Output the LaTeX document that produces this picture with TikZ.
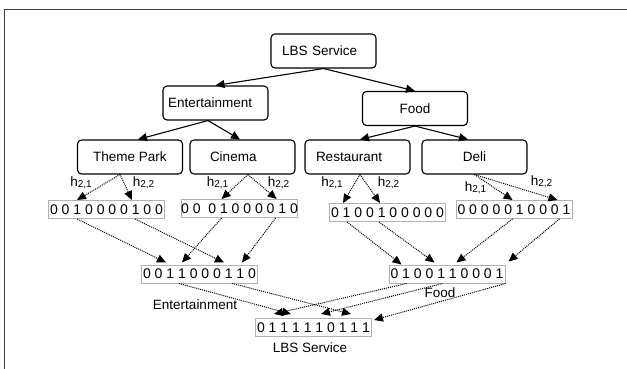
\documentclass[tikz,border=0pt]{standalone}
\usepackage{fontspec}
\setmainfont{Liberation Sans}
\usetikzlibrary{arrows.meta}

\tikzset{
  categoria/.style={draw, rounded corners=4pt, line width=1.1pt, inner sep=0pt,
    minimum width=105pt, minimum height=34pt, font=\fontsize{13.5}{16}\selectfont},
  margen/.style={align=left, text width=#1},
  bits/.style={draw=gray!60, line width=1pt, inner sep=0pt,
    minimum width=116pt, minimum height=18pt, font=\fontsize{14}{16}\selectfont},
  arbol/.style={line width=1.1pt, -{Triangle[length=9pt,width=8pt]}},
  hash/.style={line width=1pt, dash pattern=on 1pt off 1pt, -{Triangle[length=9pt,width=8pt]}},
  etiq/.style={inner sep=0pt, font=\fontsize{13.5}{16}\selectfont},
}
\newcommand{\hfun}[1]{h\raisebox{-1pt}{\fontsize{10}{12}\selectfont #1}}

\begin{document}
\begin{tikzpicture}[x=1pt, y=-1pt]
  \useasboundingbox (0,0) rectangle (627,369);
  % Marco
  \draw[line width=1.5pt, black!75] (4.5,372) -- (4.5,9.5) -- (630,9.5);

  % Jerarquia de categorias
  \node[categoria, margen=83pt] (lbs)  at (323.5,51)  {LBS Service};
  \node[categoria, margen=95pt] (ent)  at (215.5,103) {Entertainment};
  \node[categoria] (food) at (415,108.5) {Food};
  \node[categoria] (tpark) at (130,157)   {Theme Park};
  \node[categoria, margen=65pt] (cine)  at (242.5,157) {Cinema};
  \node[categoria, margen=83pt] (rest)  at (357.5,157) {Restaurant};
  \node[categoria] (deli)  at (474.5,157) {Deli};

  \draw[arbol] (lbs.south) -- (ent.north);
  \draw[arbol] (lbs.south) -- (food.north);
  \draw[arbol] ([xshift=-7.5pt]ent.south) -- ([xshift=8pt]tpark.north);
  \draw[arbol] ([xshift=-7.5pt]ent.south) -- ([xshift=-2.5pt]cine.north);
  \draw[arbol] (food.south) -- ([xshift=2.5pt]rest.north);
  \draw[arbol] (food.south) -- ([xshift=-6.5pt]deli.north);

  % Filtros de Bloom de las hojas
  \node[bits] (a1) at (106.5,209.5) {0 0 1 0 0 0 0 1 0 0};
  \node[bits] (a2) at (239.5,208.5) {0 0 \ 0 1 0 0 0 0 1 0};
  \node[bits] (a3) at (387.5,212.5) {0 1 0 0 1 0 0 0 0 0};
  \node[bits] (a4) at (514,209.5)   {0 0 0 0 0 1 0 0 0 1};

  % Funciones hash
  \draw[hash] ([xshift=-10pt]tpark.south) -- ([xshift=29pt]a1.north west);
  \draw[hash] ([xshift=-10pt]tpark.south) -- ([xshift=84pt]a1.north west);
  \draw[hash] ([xshift=5.5pt]cine.south) -- ([xshift=41pt]a2.north west);
  \draw[hash] ([xshift=5.5pt]cine.south) -- ([xshift=96pt]a2.north west);
  \draw[hash] ([xshift=2.5pt]rest.south) -- ([xshift=14pt]a3.north west);
  \draw[hash] ([xshift=2.5pt]rest.south) -- ([xshift=51pt]a3.north west);
  \draw[hash] (deli.south) -- ([xshift=57pt]a4.north west);
  \draw[hash] (deli.south) -- ([xshift=102pt]a4.north west);

  \node[etiq] (h11) at (81,183)    {\hfun{2,1}};
  \node[etiq] (h12) at (143.5,183) {\hfun{2,2}};
  \node[etiq] (h21) at (217.5,183) {\hfun{2,1}};
  \node[etiq] (h22) at (278.5,183) {\hfun{2,2}};
  \node[etiq] (h31) at (332,183)   {\hfun{2,1}};
  \node[etiq] (h32) at (388.5,183) {\hfun{2,2}};
  \node[etiq] (h41) at (475.5,188) {\hfun{2,1}};
  \node[etiq] (h42) at (541.5,182) {\hfun{2,2}};

  % Filtros de las categorias intermedias
  \node[bits] (b1) at (199.5,274) {0 0 1 1 0 0 0 1 1 0};
  \node[bits] (b2) at (447,274)   {0 1 0 0 1 1 0 0 0 1};

  \draw[hash] ([xshift=29pt]a1.south west) -- ([xshift=25pt,yshift=2pt]b1.north west);
  \draw[hash] ([xshift=87pt]a1.south west) -- ([xshift=83pt,yshift=2pt]b1.north west);
  \draw[hash] ([xshift=41pt]a2.south west) -- ([xshift=41pt,yshift=2pt]b1.north west);
  \draw[hash] ([xshift=95pt]a2.south west) -- ([xshift=101pt,yshift=2pt]b1.north west);
  \draw[hash] ([xshift=18pt]a3.south west) -- ([xshift=13pt]b2.north west);
  \draw[hash] ([xshift=50pt]a3.south west) -- ([xshift=46pt,yshift=2pt]b2.north west);
  \draw[hash] ([xshift=57pt]a4.south west) -- ([xshift=68pt,yshift=2pt]b2.north west);
  \draw[hash] ([xshift=104pt]a4.south west) -- ([xshift=3pt,yshift=3pt]b2.north east);

  \node[etiq] (lent)  at (195,305) {Entertainment};
  \node[etiq] (lfood) at (440,293) {Food};

  % Filtro de la raiz
  \node[bits] (c) at (313.5,327.5) {0 1 1 1 1 1 0 1 1 1};
  \node[etiq] (llbs) at (310,348) {LBS Service};

  \draw[hash] ([xshift=38pt]b1.south west) -- ([xshift=36pt,yshift=4pt]c.north west);
  \draw[hash] ([xshift=91pt]b1.south west) -- ([xshift=96pt,yshift=4pt]c.north west);
  \draw[hash] ([xshift=18pt]b2.south west) -- ([xshift=19pt,yshift=4pt]c.north west);
  \draw[hash] ([xshift=54pt]b2.south west) -- ([xshift=66pt,yshift=4pt]c.north west);
  \draw[hash] (b2.south east) -- ([xshift=2pt,yshift=-2pt]c.north east);
\end{tikzpicture}
\end{document}
